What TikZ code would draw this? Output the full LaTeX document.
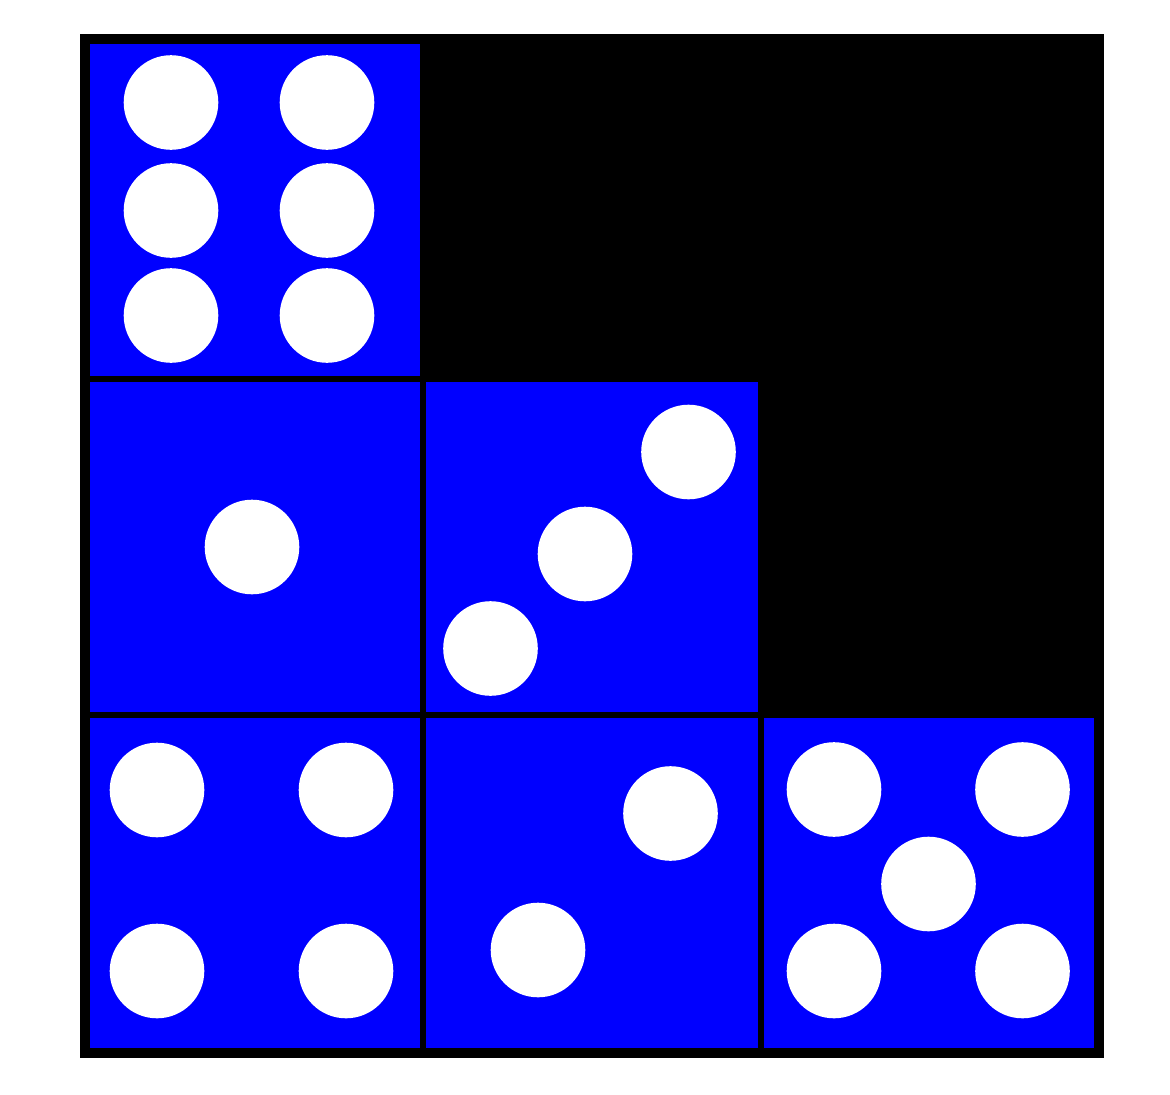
\documentclass[tikz,border=0pt]{standalone}
\begin{document}
\begin{tikzpicture}[x=1pt,y=-1pt,
  face/.style={fill={rgb,255:red,0;green,0;blue,255}},
  pip/.style={fill=white},
  board/.style={fill=black}]
\useasboundingbox (0,0) rectangle (1170,1095);
\fill[board] (80,34) rectangle (1104,1058);
% faces
\fill[face] (90,44) rectangle (420,376);
\fill[face] (90,382) rectangle (420,712);
\fill[face] (426,382) rectangle (758,712);
\fill[face] (90,718) rectangle (420,1048);
\fill[face] (426,718) rectangle (758,1048);
\fill[face] (764,718) rectangle (1094,1048);
% pips
\def\r{47.3}
\foreach \p in {(171,102.5),(327,102.5),(171,210.5),(327,210.5),(171,315.5),(327,315.5),
  (252,547),
  (688.5,452),(585,554),(490.5,648.5),
  (157,790),(346,790),(157,971),(346,971),
  (670.5,813.5),(538,950),
  (834,789.5),(1022.5,789.5),(928.5,884),(834,971),(1022.5,971)}
  \fill[pip] \p circle (\r);
\end{tikzpicture}
\end{document}
